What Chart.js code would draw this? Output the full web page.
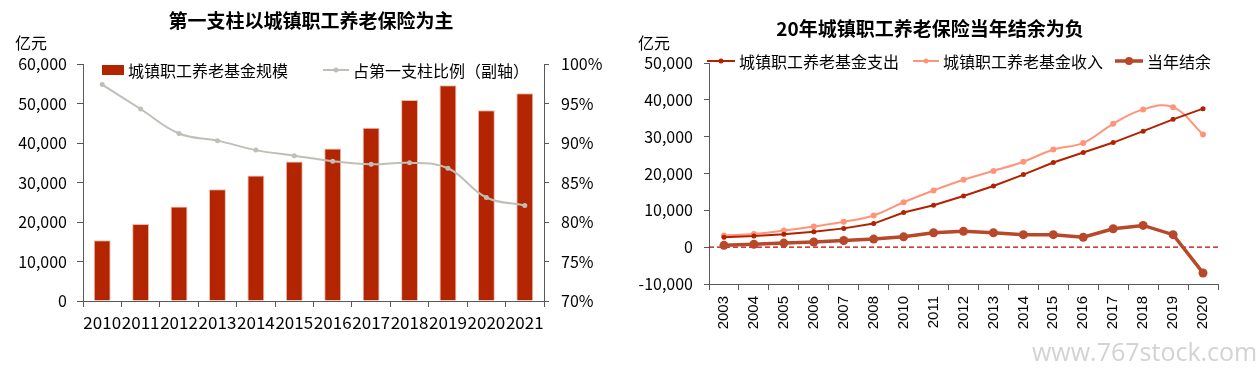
<!DOCTYPE html>
<html>
<head>
<meta charset="utf-8">
<script src="https://cdn.jsdelivr.net/npm/chart.js@4.4.1/dist/chart.umd.min.js"></script>
<style>
  html, body { margin: 0; padding: 0; background: #fff; }
  body { width: 1259px; height: 379px; position: relative; overflow: hidden;
         font-family: 'Noto Sans CJK SC', sans-serif; color: #000; }
  canvas { position: absolute; top: 0; }
  .t { position: absolute; white-space: nowrap; line-height: 1; }
  .title { font-weight: 700; font-size: 19px; transform: translateX(-50%); }
  .unit { font-size: 16px; }
  .leg { position: absolute; display: flex; align-items: center; font-size: 16px; line-height: 1; white-space: nowrap; }
  .leg svg { display: block; margin-right: 3px; }
  .wm { position: absolute; font-family: 'Open Sans', sans-serif; font-size: 25px; color: #d3d3d3; white-space: nowrap; line-height: 1; }
</style>
</head>
<body>
<canvas id="c1" width="620" height="379" style="left:0"></canvas>
<canvas id="c2" width="639" height="379" style="left:620px"></canvas>

<div class="t title" style="left:311px; top:10px;">第一支柱以城镇职工养老保险为主</div>
<div class="t unit" style="left:15px; top:34px;">亿元</div>
<div class="leg" style="left:101px; top:62px;">
  <svg width="24" height="14"><rect x="1" y="2" width="22" height="10" fill="#B32500"/></svg>城镇职工养老基金规模
</div>
<div class="leg" style="left:322px; top:62px;">
  <svg width="28" height="14"><line x1="1" y1="7" x2="27" y2="7" stroke="#BFBFB7" stroke-width="2"/><circle cx="14" cy="7" r="2.5" fill="#BFBFB7"/></svg>占第一支柱比例（副轴）
</div>

<div class="t title" style="left:930px; top:18px;">20年城镇职工养老保险当年结余为负</div>
<div class="t unit" style="left:638px; top:34px;">亿元</div>
<div class="leg" style="left:706px; top:53px;">
  <svg width="30" height="14"><line x1="1" y1="7" x2="29" y2="7" stroke="#B22200" stroke-width="2"/><circle cx="15" cy="7" r="2.5" fill="#B22200"/></svg>城镇职工养老基金支出
</div>
<div class="leg" style="left:912px; top:53px;">
  <svg width="28" height="14"><line x1="1" y1="7" x2="27" y2="7" stroke="#FF9478" stroke-width="2"/><circle cx="14" cy="7" r="2.5" fill="#FF9478"/></svg>城镇职工养老基金收入
</div>
<div class="leg" style="left:1114px; top:53px;">
  <svg width="30" height="14"><line x1="1" y1="7" x2="29" y2="7" stroke="#B8482A" stroke-width="3.5"/><circle cx="15" cy="7" r="4" fill="#B8482A"/></svg>当年结余
</div>

<div class="wm" style="left:1032px; top:339px;">www.767stock.com</div>

<script>
// ---------- Data ----------
const yearsLeft = ['2010','2011','2012','2013','2014','2015','2016','2017','2018','2019','2020','2021'];
const fundScale = [15365, 19497, 23941, 28269, 31800, 35345, 38580, 43885, 50901, 54623, 48317, 52574];
const pillarShare = [97.4, 94.3, 91.2, 90.3, 89.1, 88.4, 87.7, 87.3, 87.5, 86.8, 83.1, 82.1];

const yearsRight = ['2003','2004','2005','2006','2007','2008','2010','2011','2012','2013','2014','2015','2016','2017','2018','2019','2020'];
const expenditure = [2700, 3000, 3500, 4200, 5100, 6400, 9400, 11400, 13900, 16600, 19700, 23000, 25700, 28400, 31500, 34700, 37600];
const income = [3200, 3600, 4500, 5600, 6900, 8600, 12200, 15400, 18300, 20700, 23200, 26500, 28300, 33500, 37400, 38000, 30600];
const surplus = [500, 800, 1100, 1400, 1800, 2200, 2800, 3900, 4300, 3900, 3400, 3400, 2700, 5000, 5900, 3400, -7000];

const leftTicks = { min: 0, max: 60000, step: 10000 };
const shareTicks = { min: 70, max: 100, step: 5 };
const rightTicks = { min: -10000, max: 50000, step: 10000 };

// ---------- Defaults ----------
Chart.defaults.font.family = "'Noto Sans CJK SC', sans-serif";
Chart.defaults.font.size = 16;
Chart.defaults.color = '#000';
Chart.defaults.animation = false;

const axisColor = '#595959';
const fmt = v => Number(v).toLocaleString('en-US');

// ---------- Left chart ----------
new Chart(document.getElementById('c1'), {
  data: {
    labels: yearsLeft,
    datasets: [
      {
        type: 'line', label: '占第一支柱比例（副轴）', data: pillarShare, yAxisID: 'y1',
        borderColor: '#BFBFB7', backgroundColor: '#BFBFB7', borderWidth: 2,
        pointRadius: 2.5, pointBorderWidth: 0, tension: 0.4, order: 0
      },
      {
        type: 'bar', label: '城镇职工养老基金规模', data: fundScale, yAxisID: 'y',
        backgroundColor: '#B32500', borderColor: 'rgba(235,170,150,0.8)', borderWidth: 1,
        barPercentage: 0.44, categoryPercentage: 1, order: 1
      }
    ]
  },
  options: {
    responsive: false,
    layout: { padding: { top: 64, right: 0, left: 0, bottom: 0 } },
    plugins: { legend: { display: false }, tooltip: { enabled: false } },
    scales: {
      x: {
        grid: { display: true, drawOnChartArea: false, offset: true, tickLength: 6, color: axisColor },
        border: { color: axisColor, width: 1 },
        ticks: { autoSkip: false, maxRotation: 0, minRotation: 0, padding: 5, font: { size: 17 } },
        afterFit: s => { s.height = 78; }
      },
      y: {
        position: 'left', min: leftTicks.min, max: leftTicks.max,
        grid: { display: true, drawOnChartArea: false, tickLength: 6, color: axisColor },
        border: { color: axisColor, width: 1 },
        ticks: { stepSize: leftTicks.step, padding: 10, callback: v => fmt(v) },
        afterFit: s => { s.width = 83; }
      },
      y1: {
        position: 'right', min: shareTicks.min, max: shareTicks.max,
        grid: { display: true, drawOnChartArea: false, tickLength: 5, color: axisColor },
        border: { color: axisColor, width: 1 },
        ticks: { stepSize: shareTicks.step, padding: 12, callback: v => v + '%' },
        afterFit: s => { s.width = 76; }
      }
    }
  }
});

// ---------- Right chart ----------
const zeroLine = {
  id: 'zeroLine',
  beforeDatasetsDraw(chart) {
    const { ctx, chartArea } = chart;
    const y = chart.scales.y.getPixelForValue(0);
    ctx.save();
    ctx.strokeStyle = '#C00000';
    ctx.lineWidth = 1.2;
    ctx.setLineDash([5, 3]);
    ctx.beginPath();
    ctx.moveTo(chartArea.left, y);
    ctx.lineTo(chartArea.right, y);
    ctx.stroke();
    ctx.restore();
  }
};

new Chart(document.getElementById('c2'), {
  type: 'line',
  data: {
    labels: yearsRight,
    datasets: [
      {
        label: '城镇职工养老基金支出', data: expenditure,
        borderColor: '#B22200', backgroundColor: '#B22200', borderWidth: 2,
        pointRadius: 2.5, pointBorderWidth: 0, tension: 0
      },
      {
        label: '城镇职工养老基金收入', data: income,
        borderColor: '#FF9478', backgroundColor: '#FF9478', borderWidth: 2,
        pointRadius: 3, pointBorderWidth: 0, tension: 0.4
      },
      {
        label: '当年结余', data: surplus,
        borderColor: '#B8482A', backgroundColor: '#B8482A', borderWidth: 3.5,
        pointRadius: 4.5, pointBorderWidth: 0, tension: 0
      }
    ]
  },
  options: {
    responsive: false,
    layout: { padding: { top: 63, right: 41, left: 0, bottom: 0 } },
    plugins: { legend: { display: false }, tooltip: { enabled: false } },
    scales: {
      x: {
        offset: true,
        grid: { display: true, drawOnChartArea: false, offset: true, tickLength: 6, color: axisColor },
        border: { color: axisColor, width: 1 },
        ticks: { autoSkip: false, minRotation: 90, maxRotation: 90, padding: 6,
                 font: { family: "'Liberation Sans', Arial, sans-serif", size: 15 } },
        afterFit: s => { s.height = 95; }
      },
      y: {
        min: rightTicks.min, max: rightTicks.max,
        grid: { display: true, drawOnChartArea: false, tickLength: 5, color: axisColor },
        border: { color: axisColor, width: 1 },
        ticks: { stepSize: rightTicks.step, padding: 11, callback: v => fmt(v) },
        afterFit: s => { s.width = 89; }
      }
    }
  },
  plugins: [zeroLine]
});
</script>
</body>
</html>
